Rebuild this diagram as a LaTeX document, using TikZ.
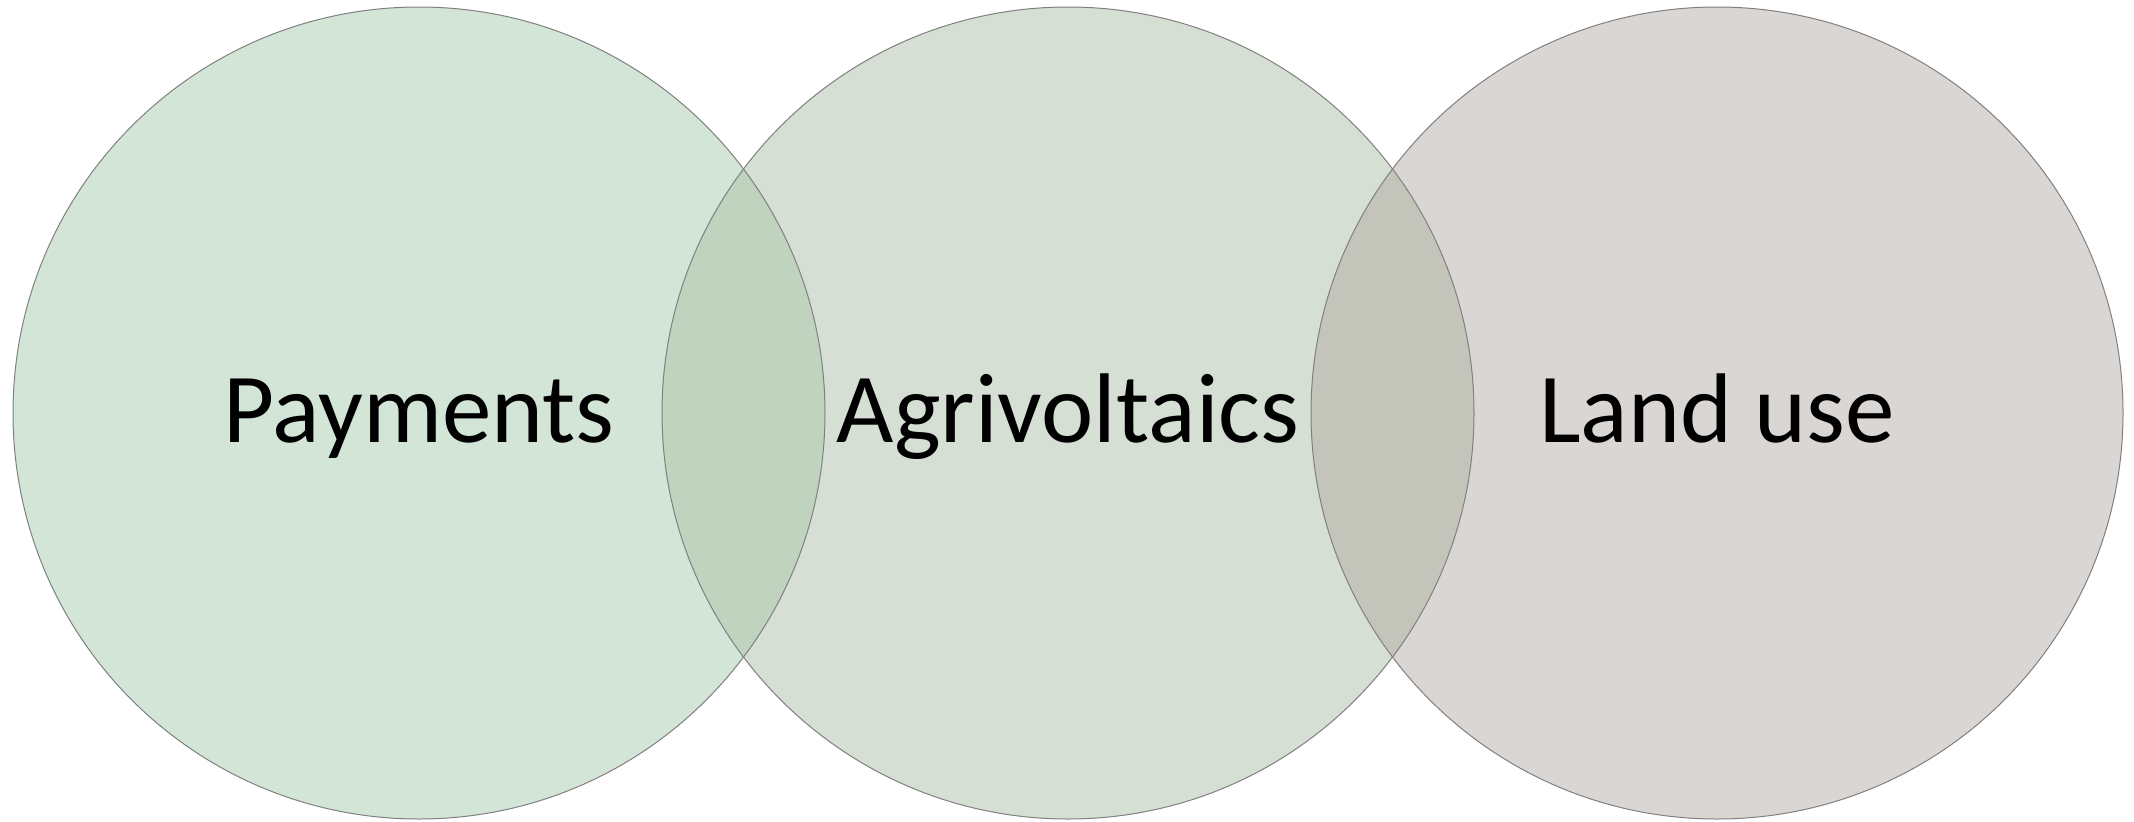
\documentclass[tikz,border=0pt]{standalone}
\usepackage{fontspec}
\setmainfont{Carlito}
\usepackage{tikz}
\usetikzlibrary{positioning}

\definecolor{paymentsFill}{HTML}{D2E5D6}
\definecolor{agriFill}{HTML}{D5DFD3}
\definecolor{landFill}{HTML}{DAD6D4}
\definecolor{lensLeft}{HTML}{BFD3BF}
\definecolor{lensRight}{HTML}{C4C5BA}
\definecolor{rimGray}{HTML}{808080}

\tikzset{
    vennCircle/.style={circle, inner sep=0pt, minimum size=812pt, line width=1pt},
    vennLabel/.style={anchor=base, inner sep=0pt, font=\fontsize{99}{119}\selectfont}
}

\begin{document}
\begin{tikzpicture}[x=1pt, y=1pt]
    \useasboundingbox (0,0) rectangle (2134,-822);

    \node[vennCircle, fill=paymentsFill] (Payments) at (419,-413) {};
    \node[vennCircle, fill=agriFill] (Agrivoltaics) at (1068,-413) {};
    \node[vennCircle, fill=landFill] (LandUse) at (1717,-413) {};

    % overlaps
    \begin{scope}
        \clip (Payments.center) circle (406);
        \fill[lensLeft] (Agrivoltaics.center) circle (406);
    \end{scope}
    \begin{scope}
        \clip (Agrivoltaics.center) circle (406);
        \fill[lensRight] (LandUse.center) circle (406);
    \end{scope}

    \draw[rimGray, line width=1pt] (Payments.center) circle (406);
    \draw[rimGray, line width=1pt] (Agrivoltaics.center) circle (406);
    \draw[rimGray, line width=1pt] (LandUse.center) circle (406);

    \node[vennLabel] (paymentsText) at ([yshift=-29pt]Payments.center) {Payments};
    \node[vennLabel] (agriText) at ([yshift=-29pt]Agrivoltaics.center) {Agrivoltaics};
    \node[vennLabel] (landText) at ([yshift=-29pt]LandUse.center) {Land use};
\end{tikzpicture}
\end{document}
